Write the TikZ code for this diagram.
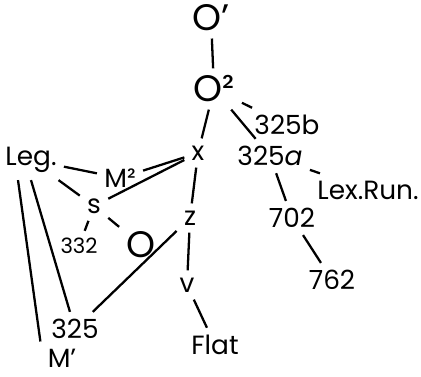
\documentclass[tikz,border=0pt]{standalone}
\usepackage{fontspec}
\setmainfont{Poppins}
\begin{document}
\begin{tikzpicture}[x=0.02cm,y=-0.02cm,
  big/.style={font=\fontsize{21}{21}\selectfont, inner sep=4pt},
  ms/.style={font=\fontsize{15}{15}\selectfont, inner sep=4pt},
  sm/.style={font=\fontsize{12}{12}\selectfont, inner sep=4pt},
  stem/.style={line width=1.3pt}]
\useasboundingbox (0,0) rectangle (421,376);

% top of the tree
\node[big] (op) at (211, 18) {O’};
\node[big] (o2) at (214, 89) {O²};
\node[ms] (b325) at (287, 125) {325b};
\node[ms] (x) at (198, 153) {x};
\node[ms] (a325) at (270, 156) {325\textit{a}};

% left group
\node[ms] (leg) at (31, 160) {Leg.};
\node[ms] (m2) at (120, 178) {M²};
\node[ms] (s) at (94, 206) {s};
\node[sm] (n332) at (79, 246) {332};
\node[big] (o) at (141, 245) {O};
\node[ms] (n325) at (75, 329) {325};
\node[ms] (m1) at (62, 358) {M’};

% middle
\node[ms] (z) at (190, 218) {z};
\node[ms] (v) at (187, 285) {v};
\node[ms] (flat) at (215, 345) {Flat};

% right
\node[ms] (lex) at (368, 190) {Lex.Run.};
\node[ms] (n702) at (292, 218) {702};
\node[ms] (n762) at (332, 280) {762};

\draw[stem] (op) -- (o2);
\draw[stem] (o2) -- (x);
\draw[stem] (o2) -- (b325);
\draw[stem] (o2) -- (a325);
\draw[stem] (a325) -- (lex);
\draw[stem] (a325) -- (n702);
\draw[stem] (n702) -- (n762);

\draw[stem] (x) -- (m2);
\draw[stem] (x) -- (s);
\draw[stem] (x) -- (z);
\draw[stem] (leg) -- (m2);
\draw[stem] (leg) -- (s);
\draw[stem] (s) -- (n332);
\draw[stem] (s) -- (o);
\draw[stem] ([xshift=-0.26cm]leg.south) -- (m1.north west);
\draw[stem] (leg.south) -- (n325);

\draw[stem] (z) -- (n325);
\draw[stem] (z) -- (v);
\draw[stem] (v) -- (flat);
\end{tikzpicture}
\end{document}
